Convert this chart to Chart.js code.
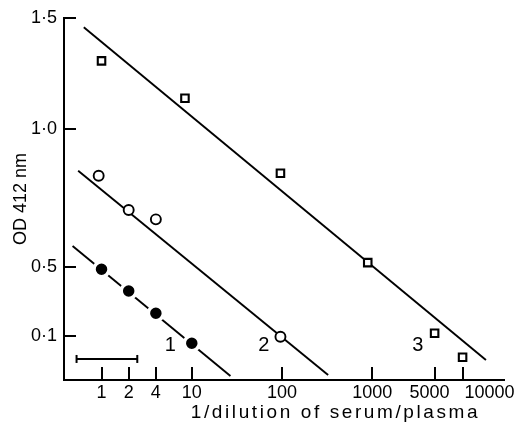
<!DOCTYPE html>
<html>
<head>
<meta charset="UTF-8" />
<title>OD 412 nm vs 1/dilution</title>
<script src="https://cdn.jsdelivr.net/npm/chart.js"></script>
<style>
  body { margin: 0; background: #fff; }
  canvas { display: block; }
</style>
</head>
<body>
<canvas id="chart" width="515" height="426"></canvas>
<script>
  // curve 1 - filled circles
  const s1X = [1, 2, 4, 10];
  const s1Y = [0.487, 0.361, 0.232, 0.058];
  // curve 2 - open circles
  const s2X = [0.93, 2, 4, 96];
  const s2Y = [0.831, 0.707, 0.673, 0.096];
  // curve 3 - squares
  const s3X = [1, 8.4, 96, 890, 4900, 10000];
  const s3Y = [1.307, 1.139, 0.840, 0.516, 0.116, -0.023];

  // drawn regression lines (end points)
  const fit1X = [0.478, 26.8];   const fit1Y = [0.576, -0.132];
  const fit2X = [0.551, 324];    const fit2Y = [0.849, -0.126];
  const fit3X = [0.636, 18150];  const fit3Y = [1.458, -0.039];

  // scale bar bottom left
  const barX = [0.529, 2.49];
  const barY = [-0.033, -0.033];

  // curve numbers
  const curveNames = ['1', '2', '3'];
  const curveNameX = [5.8, 63, 3200];
  const curveNameY = [0.048, 0.048, 0.048];

  const xTicks = [1, 2, 4, 10, 100, 1000, 5000, 10000];
  const yTicks = [0.1, 0.5, 1.0, 1.5];
  const yLabels = ['0·1', '0·5', '1·0', '1·5'];

  // the printed OD axis is not evenly spaced, so map it piece by piece
  const yKnotVal = [-0.155, 0.1, 0.5, 1.0, 1.5];
  const yKnotPos = [0, 0.1215, 0.312, 0.693, 1];

  function interp(v, xs, ys) {
    let i = 1;
    while (i < xs.length - 1 && v > xs[i]) i++;
    const t = (v - xs[i - 1]) / (xs[i] - xs[i - 1]);
    return ys[i - 1] + t * (ys[i] - ys[i - 1]);
  }

  class PiecewiseScale extends Chart.LinearScale {
    getPixelForValue(value) {
      return this.getPixelForDecimal(interp(value, yKnotVal, yKnotPos));
    }
    getValueForPixel(pixel) {
      return interp(this.getDecimalForPixel(pixel), yKnotPos, yKnotVal);
    }
    buildTicks() {
      return yTicks.map(v => ({ value: v }));
    }
  }
  PiecewiseScale.id = 'piecewise';
  PiecewiseScale.defaults = Chart.LinearScale.defaults;
  Chart.register(PiecewiseScale);

  const pts = (xs, ys) => xs.map((x, i) => ({ x: x, y: ys[i] }));
  const FONT = "'Liberation Sans', Arial, sans-serif";

  const axisExtras = {
    id: 'axisExtras',
    afterDraw(chart) {
      const ctx = chart.ctx;
      const xs = chart.scales.x, ys = chart.scales.y;
      const area = chart.chartArea;
      ctx.save();
      ctx.strokeStyle = '#000';
      ctx.lineWidth = 2;
      // inward tick marks
      xTicks.forEach(v => {
        const px = Math.round(xs.getPixelForValue(v));
        ctx.beginPath();
        ctx.moveTo(px, area.bottom);
        ctx.lineTo(px, area.bottom - 13);
        ctx.stroke();
      });
      yTicks.forEach(v => {
        const py = Math.round(ys.getPixelForValue(v));
        ctx.beginPath();
        ctx.moveTo(area.left, py);
        ctx.lineTo(area.left + 12, py);
        ctx.stroke();
      });
      // x tick labels (10000 is set to the right of its tick)
      ctx.fillStyle = '#000';
      ctx.font = '18px ' + FONT;
      ctx.textBaseline = 'middle';
      xTicks.forEach(v => {
        let px = xs.getPixelForValue(v);
        ctx.textAlign = 'center';
        if (v === 5000) px -= 6;
        if (v === 10000) { ctx.textAlign = 'left'; px += 2; }
        ctx.fillText(String(v), px, area.bottom + 13);
      });
      // x title
      ctx.font = '19px ' + FONT;
      ctx.letterSpacing = '2.6px';
      ctx.textAlign = 'center';
      ctx.fillText('1/dilution of serum/plasma', area.left + 0.617 * (area.right - area.left), area.bottom + 33);
      ctx.letterSpacing = '0px';
      // curve numbers
      ctx.font = '20px ' + FONT;
      curveNames.forEach((t, i) => {
        ctx.fillText(t, xs.getPixelForValue(curveNameX[i]), ys.getPixelForValue(curveNameY[i]));
      });
      ctx.restore();
    }
  };

  const lineSet = (xs, ys) => ({
    data: pts(xs, ys), showLine: true, borderColor: '#000', borderWidth: 1.9,
    pointRadius: 0, order: 3
  });

  new Chart(document.getElementById('chart'), {
    type: 'scatter',
    data: {
      datasets: [
        lineSet(fit1X, fit1Y),
        lineSet(fit2X, fit2Y),
        lineSet(fit3X, fit3Y),
        {
          data: pts(s1X, s1Y), pointStyle: 'circle', pointRadius: 7.5,
          pointBackgroundColor: '#000', pointBorderColor: '#fff', pointBorderWidth: 3.5, order: 1
        },
        {
          data: pts(s2X, s2Y), pointStyle: 'circle', pointRadius: 5,
          pointBackgroundColor: '#fff', pointBorderColor: '#000', pointBorderWidth: 1.9, order: 1
        },
        {
          data: pts(s3X, s3Y), pointStyle: 'rect', pointRadius: 5.3,
          pointBackgroundColor: '#fff', pointBorderColor: '#000', pointBorderWidth: 2.1, order: 1
        },
        {
          data: pts(barX, barY), showLine: true, borderColor: '#000', borderWidth: 2,
          pointStyle: 'line', rotation: 90, pointRadius: 4, pointBorderWidth: 2,
          pointBorderColor: '#000', order: 2
        }
      ]
    },
    options: {
      responsive: false,
      animation: false,
      clip: false,
      layout: { padding: { top: 18, right: 5, bottom: 0, left: 0 } },
      plugins: { legend: { display: false }, tooltip: { enabled: false } },
      font: { family: FONT },
      scales: {
        x: {
          type: 'logarithmic',
          min: 0.384,
          max: 28770,
          afterBuildTicks: s => { s.ticks = xTicks.map(v => ({ value: v })); },
          afterFit: s => { s.height = 46; },
          grid: { drawOnChartArea: false, drawTicks: false },
          border: { display: true, color: '#000', width: 2 },
          ticks: { display: false }
        },
        y: {
          type: 'piecewise',
          min: yKnotVal[0],
          max: 1.5,
          afterFit: s => { s.width = 64; },
          grid: { drawOnChartArea: false, drawTicks: false },
          border: { display: true, color: '#000', width: 2 },
          ticks: {
            color: '#000',
            padding: 7,
            font: { family: FONT, size: 18 },
            callback: (v, i) => yLabels[i]
          },
          title: {
            display: true,
            text: 'OD 412 nm',
            color: '#000',
            font: { family: FONT, size: 18 },
            padding: { top: 10, bottom: 0 }
          }
        }
      }
    },
    plugins: [axisExtras]
  });
</script>
</body>
</html>
